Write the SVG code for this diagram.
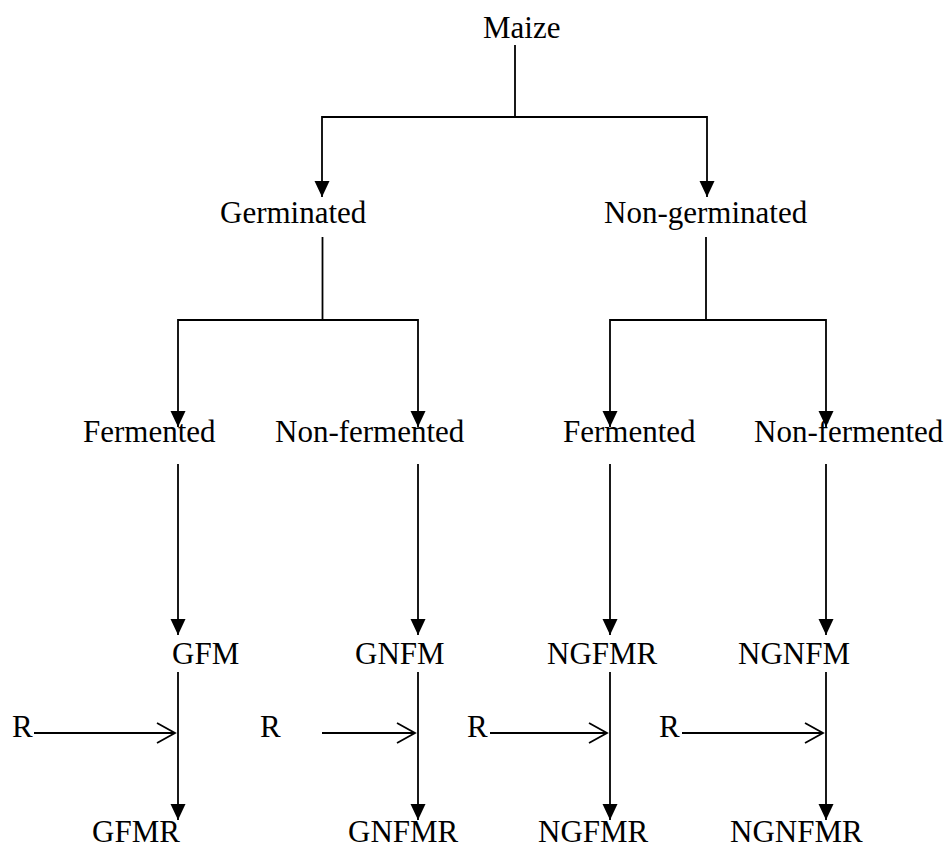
<svg xmlns="http://www.w3.org/2000/svg" width="952" height="849" viewBox="0 0 952 849">
<style>
text{font-family:"Liberation Serif","Times New Roman",serif;font-size:31px;fill:#000}
.c line,.c path{stroke:#000;stroke-width:1.8;fill:none}
</style>
<defs>
<marker id="ah" markerUnits="userSpaceOnUse" markerWidth="15" markerHeight="16" refX="16" refY="7.5" orient="auto" overflow="visible">
<path d="M0,0 L16,7.5 L0,15 z" fill="#000"/>
</marker>
<marker id="oa" markerUnits="userSpaceOnUse" markerWidth="20" markerHeight="22" refX="18" refY="10" orient="auto" overflow="visible">
<path d="M0,0 L18,10 L0,20" fill="none" stroke="#000" stroke-width="1.8"/>
</marker>
</defs>
<g id="maize"><text x="483" y="38">Maize</text></g>
<g id="germinated"><text x="220" y="223">Germinated</text></g>
<g id="non-germinated"><text x="604" y="223">Non-germinated</text></g>
<g id="g-fermented"><text x="83" y="442">Fermented</text></g>
<g id="g-non-fermented"><text x="275" y="442">Non-fermented</text></g>
<g id="ng-fermented"><text x="563" y="442">Fermented</text></g>
<g id="ng-non-fermented"><text x="754" y="442">Non-fermented</text></g>
<g id="gfm"><text x="172" y="664">GFM</text></g>
<g id="gnfm"><text x="355" y="664">GNFM</text></g>
<g id="ngfmr-mid"><text x="547" y="664">NGFMR</text></g>
<g id="ngnfm"><text x="738" y="664">NGNFM</text></g>
<g id="r1"><text x="12" y="737">R</text></g>
<g id="r2"><text x="260" y="737">R</text></g>
<g id="r3"><text x="467" y="737">R</text></g>
<g id="r4"><text x="659" y="737">R</text></g>
<g id="gfmr"><text x="92" y="842">GFMR</text></g>
<g id="gnfmr"><text x="348" y="842">GNFMR</text></g>
<g id="ngfmr"><text x="538" y="842">NGFMR</text></g>
<g id="ngnfmr"><text x="730" y="842">NGNFMR</text></g>
<g id="connectors" class="c">
<line x1="515" y1="45" x2="515" y2="117"/>
<line x1="322" y1="117" x2="707" y2="117"/>
<line x1="322" y1="116" x2="322" y2="197" marker-end="url(#ah)"/>
<line x1="707" y1="116" x2="707" y2="197" marker-end="url(#ah)"/>
<line x1="322.5" y1="237" x2="322.5" y2="320"/>
<line x1="178" y1="320" x2="418" y2="320"/>
<line x1="178" y1="319" x2="178" y2="427" marker-end="url(#ah)"/>
<line x1="418" y1="319" x2="418" y2="427" marker-end="url(#ah)"/>
<line x1="706" y1="237" x2="706" y2="320"/>
<line x1="610" y1="320" x2="826" y2="320"/>
<line x1="610" y1="319" x2="610" y2="427" marker-end="url(#ah)"/>
<line x1="826" y1="319" x2="826" y2="427" marker-end="url(#ah)"/>
<line x1="178" y1="464" x2="178" y2="635" marker-end="url(#ah)"/>
<line x1="418" y1="464" x2="418" y2="635" marker-end="url(#ah)"/>
<line x1="610" y1="464" x2="610" y2="635" marker-end="url(#ah)"/>
<line x1="826" y1="464" x2="826" y2="635" marker-end="url(#ah)"/>
<line x1="178" y1="672" x2="178" y2="820" marker-end="url(#ah)"/>
<line x1="418" y1="672" x2="418" y2="820" marker-end="url(#ah)"/>
<line x1="610" y1="672" x2="610" y2="820" marker-end="url(#ah)"/>
<line x1="826" y1="672" x2="826" y2="820" marker-end="url(#ah)"/>
<line x1="34" y1="733" x2="175" y2="733" marker-end="url(#oa)"/>
<line x1="322" y1="733" x2="415" y2="733" marker-end="url(#oa)"/>
<line x1="490" y1="733" x2="607" y2="733" marker-end="url(#oa)"/>
<line x1="682" y1="733" x2="823" y2="733" marker-end="url(#oa)"/>
</g>
</svg>
